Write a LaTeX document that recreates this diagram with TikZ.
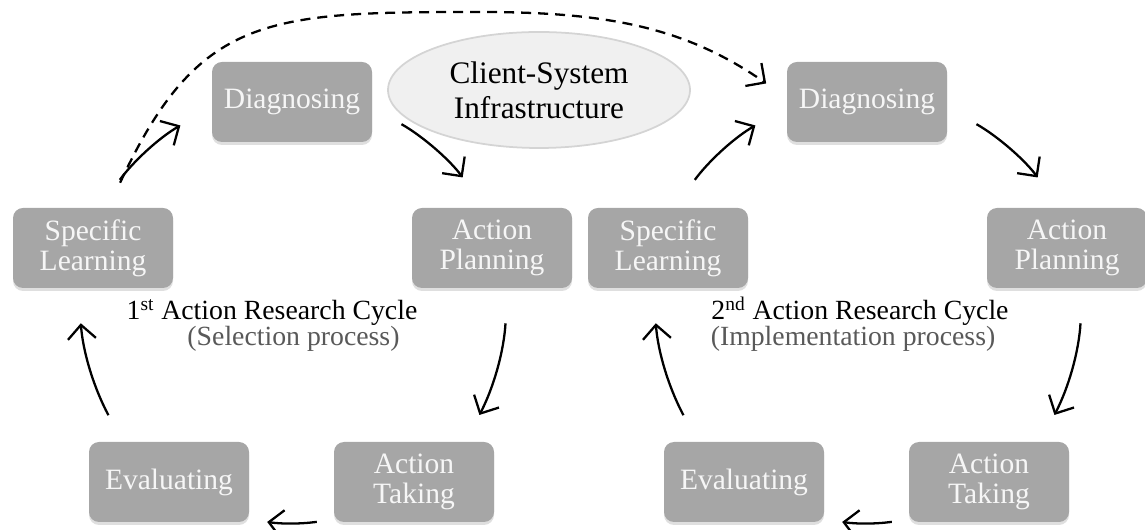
\documentclass[tikz,border=0pt]{standalone}
\usepackage{fontspec}
\setmainfont{Liberation Serif}
\usetikzlibrary{arrows.meta,shapes.geometric,shadows}
\definecolor{stagegray}{RGB}{166,166,166}
\definecolor{stagetext}{RGB}{246,246,246}
\definecolor{ellfill}{RGB}{240,240,240}
\definecolor{elldraw}{RGB}{212,212,212}
\definecolor{procgray}{RGB}{89,89,89}
\tikzset{
stage/.style={fill=stagegray, text=stagetext, rounded corners=0.2cm,
  minimum width=3.2cm, minimum height=1.6cm, inner sep=0pt, align=center,
  font=\fontsize{16.8}{17.2}\selectfont,
  drop shadow={shadow xshift=0pt, shadow yshift=-0.06cm, opacity=0.25}},
cyc/.style={line width=1.3pt, -{Straight Barb[length=2.8mm,width=5.6mm]}},
cyctitle/.style={anchor=base, font=\fontsize{15.8}{18}\selectfont},
cycproc/.style={anchor=base, text=procgray, font=\fontsize{15.8}{18}\selectfont},
arcycle/.pic={
  \node[stage] (-dg) at (5.84,8.56) {Diagnosing};
  \node[stage] (-sl) at (1.86,5.64) {Specific\\Learning};
  \node[stage] (-ap) at (9.84,5.64) {Action\\Planning};
  \node[stage] (-ev) at (3.38,0.96) {Evaluating};
  \node[stage] (-at) at (8.28,0.96) {Action\\Taking};
  \draw[cyc, shorten <=0.69cm, shorten >=0.72cm] (-sl.81) to[bend left=12] (-dg.184);
  \draw[cyc, shorten <=0.67cm, shorten >=0.75cm] (-dg.-4) to[bend left=12] (-ap.100);
  \draw[cyc, shorten <=0.7cm, shorten >=0.6cm] (-ap.-69) to[bend left=12] (-at.38);
  \draw[cyc, shorten <=0.34cm, shorten >=0.36cm] (-at.205) to[bend left=8] (-ev.-25);
  \draw[cyc, shorten <=0.6cm, shorten >=0.7cm] (-ev.139) to[bend left=12] (-sl.250);
  }
}
\begin{document}
\begin{tikzpicture}
\useasboundingbox (0,0) rectangle (22.9,10.6);
  \pic (c1) at (0,0) {arcycle};
  \pic (c2) at (11.5,0) {arcycle};
\node[ellipse, fill=ellfill, draw=elldraw, line width=1pt, minimum width=6.04cm,
  minimum height=2.32cm, inner sep=0pt, align=center,
  font=\fontsize{17.8}{20}\selectfont] (csi) at (10.78,8.80) {Client-System\\Infrastructure};
\node[cyctitle] (title1) at (5.44,4.20) {1\textsuperscript{st} Action Research Cycle};
\node[cycproc] (proc1) at (5.87,3.68) {(Selection process)};
\node[cyctitle] (title2) at (17.20,4.20) {2\textsuperscript{nd} Action Research Cycle};
\node[cycproc] (proc2) at (17.06,3.68) {(Implementation process)};
% feedback into the second cycle
\draw[cyc, dash pattern=on 0.2cm off 0.14cm, shorten <=0.55cm, shorten >=0.5cm]
  (c1-sl.69) to[out=65,in=180,looseness=1.3] (9.6,10.36) to[out=0,in=145] (c2-dg.177);
\end{tikzpicture}
\end{document}
